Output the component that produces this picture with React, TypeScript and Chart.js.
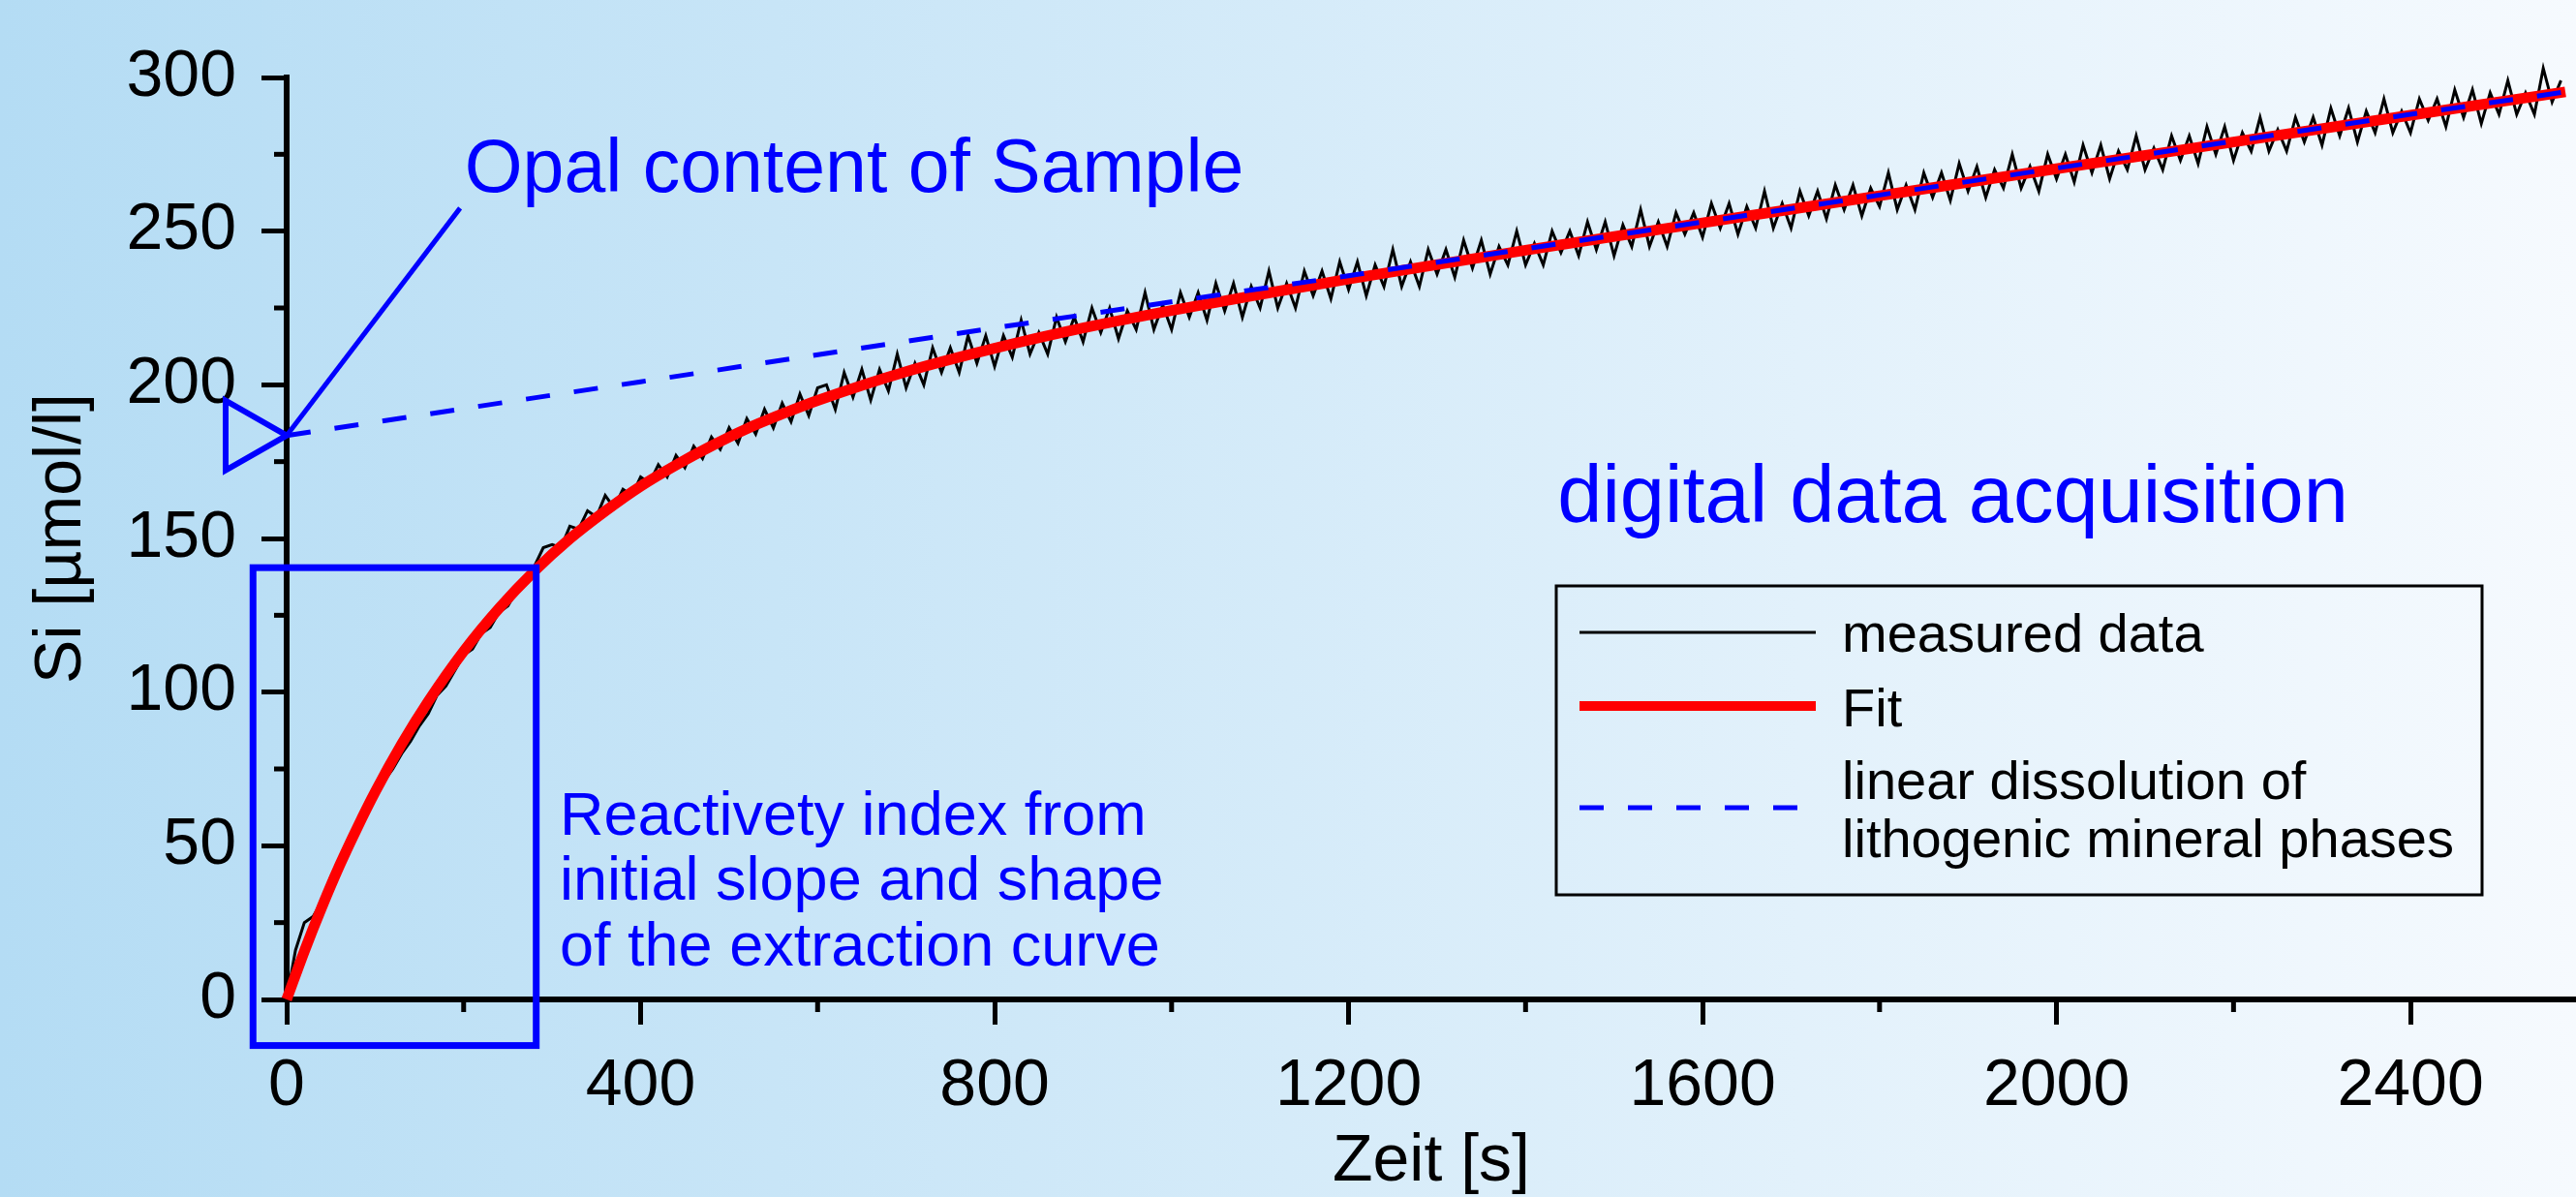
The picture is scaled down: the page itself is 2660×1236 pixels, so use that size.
import React, { useEffect, useRef } from "react";
import { Chart, registerables } from "chart.js";

Chart.register(...registerables);

const FONT = "'Liberation Sans', Arial, Helvetica, sans-serif";
const BLUE = "#0000FF";
const RED = "#FF0000";
const BLACK = "#000000";

// ---- axes ----
const xMin = 0;
const xMax = 2587;
const xTickStep = 400;
const xMinorTicks = [200, 600, 1000, 1400, 1800, 2200];
const yMin = 0;
const yMax = 300;
const yTickStep = 50;
const yMinorTicks = [25, 75, 125, 175, 225, 275];

// ---- measured data (Si, µmol/l), sampled every 10 s from t = 0 ----
const measuredStart = 0;
const measuredStep = 10;
const measuredValues = [
  0, 16, 25, 27, 32, 40, 44, 49, 55, 60,
  66, 71, 75, 80, 84, 89, 93, 99, 102, 107,
  112, 114, 119, 121, 126, 128, 133, 135, 141, 147,
  148, 147, 154, 153, 159, 157, 164, 160, 166, 164,
  170, 168, 174, 170, 177, 173, 180, 176, 183, 179,
  186, 181, 189, 184, 192, 186, 194, 188, 197, 190,
  199, 200, 192, 204, 196, 205, 195, 205, 198, 210,
  199, 207, 200, 212, 204, 212, 204, 216, 207, 216,
  206, 216, 209, 221, 210, 217, 210, 222, 214, 222,
  214, 225, 217, 225, 215, 224, 218, 230, 218, 226,
  218, 230, 222, 230, 221, 233, 224, 233, 222, 232,
  225, 237, 225, 233, 225, 237, 229, 237, 228, 240,
  231, 240, 229, 239, 232, 244, 232, 240, 232, 244,
  236, 244, 235, 247, 238, 247, 236, 245, 239, 250,
  239, 246, 239, 250, 243, 250, 242, 253, 244, 253,
  242, 252, 245, 257, 245, 253, 245, 256, 249, 256,
  248, 259, 251, 259, 249, 258, 251, 263, 251, 259,
  251, 263, 255, 263, 254, 265, 257, 265, 255, 264,
  258, 269, 257, 265, 257, 269, 261, 269, 260, 272,
  263, 271, 261, 270, 264, 275, 264, 271, 263, 275,
  267, 275, 266, 278, 269, 278, 267, 276, 270, 281,
  270, 277, 270, 281, 273, 281, 272, 284, 275, 284,
  273, 282, 276, 287, 276, 283, 276, 287, 279, 287,
  278, 290, 281, 290, 279, 289, 282, 293, 282, 289,
  282, 293, 286, 293, 284, 296, 287, 296, 285, 295,
  288, 299, 288, 295, 288, 303, 292, 299,
];

// ---- fit curve ----
const fitTimes = [0, 20, 40, 60, 80, 100, 130, 160, 200, 240, 280, 320, 360, 400, 440, 480, 520, 560, 600, 700, 800, 900, 1000, 1100, 1200, 1400, 1600, 1800, 2000, 2200, 2400, 2575];
const fitValues = [0, 15.7, 30.2, 43.7, 56.0, 67.5, 83.1, 97.0, 113.3, 127.3, 139.4, 149.9, 158.9, 167.0, 173.9, 180.1, 185.7, 190.5, 194.9, 204.3, 211.9, 218.5, 224.2, 229.4, 234.4, 243.8, 252.7, 261.5, 270.3, 279.0, 287.7, 295.3];

// ---- linear dissolution of lithogenic mineral phases ----
const linearTimes = [0, 400, 800, 1200, 1600, 2000, 2400, 2575];
const linearValues = [183.5, 201.0, 218.5, 235.5, 253.0, 270.5, 288.0, 295.3];

// ---- annotations (data units) ----
const opalContent = 183.5;
const opalLeaderEnd = { x: 196, y: 257.5 };
const opalLabel = "Opal content of Sample";
const opalLabelAt = { x: 201, y: 262.8 };
const reactivityBox = { x0: -38, x1: 282, y0: -15, y1: 140.5 };
const reactivityLines = ["Reactivety index from", "initial slope and shape", "of the extraction curve"];
const reactivityAt = { x: 308.6, y: [53.6, 32.5, 11.0] };
const acquisitionLabel = "digital data acquisition";
const acquisitionAt = { x: 1436, y: 155.4 };

const legendLabels = [["measured data"], ["Fit"], ["linear dissolution of", "lithogenic mineral phases"]];

const decorPlugin = {
  id: "decor",
  beforeDraw(chart: any) {
    const { ctx, width, height } = chart;
    const g = ctx.createLinearGradient(0, 0, width, 0);
    g.addColorStop(0, "#B4DCF4");
    g.addColorStop(1, "#F6FAFE");
    ctx.save();
    ctx.fillStyle = g;
    ctx.fillRect(0, 0, width, height);
    ctx.restore();
  },
  afterDraw(chart: any) {
    const { ctx } = chart;
    const xs = chart.scales.x;
    const ys = chart.scales.y;
    const px = (v: number) => xs.getPixelForValue(v);
    const py = (v: number) => ys.getPixelForValue(v);
    const area = chart.chartArea;
    ctx.save();

    // minor ticks
    ctx.strokeStyle = BLACK;
    ctx.lineWidth = 5;
    ctx.lineCap = "butt";
    xMinorTicks.forEach((v) => {
      const x = px(v);
      ctx.beginPath();
      ctx.moveTo(x, area.bottom);
      ctx.lineTo(x, area.bottom + 13);
      ctx.stroke();
    });
    yMinorTicks.forEach((v) => {
      const y = py(v);
      ctx.beginPath();
      ctx.moveTo(area.left, y);
      ctx.lineTo(area.left - 13, y);
      ctx.stroke();
    });

    // reactivity box
    ctx.strokeStyle = BLUE;
    ctx.lineWidth = 7;
    ctx.lineJoin = "miter";
    const bx0 = px(reactivityBox.x0);
    const bx1 = px(reactivityBox.x1);
    const by0 = py(reactivityBox.y0);
    const by1 = py(reactivityBox.y1);
    ctx.strokeRect(bx0, by1, bx1 - bx0, by0 - by1);

    // triangle marker at opal content
    const tipX = px(0);
    const tipY = py(opalContent);
    ctx.lineWidth = 6;
    ctx.beginPath();
    ctx.moveTo(tipX, tipY);
    ctx.lineTo(tipX - 63, tipY - 36);
    ctx.lineTo(tipX - 63, tipY + 36);
    ctx.closePath();
    ctx.stroke();

    // leader line
    ctx.lineWidth = 5;
    ctx.beginPath();
    ctx.moveTo(tipX, tipY);
    ctx.lineTo(px(opalLeaderEnd.x), py(opalLeaderEnd.y));
    ctx.stroke();

    // texts
    ctx.fillStyle = BLUE;
    ctx.textAlign = "left";
    ctx.textBaseline = "alphabetic";
    ctx.font = `77px ${FONT}`;
    ctx.fillText(opalLabel, px(opalLabelAt.x), py(opalLabelAt.y));
    ctx.font = `83px ${FONT}`;
    ctx.fillText(acquisitionLabel, px(acquisitionAt.x), py(acquisitionAt.y));
    ctx.font = `63px ${FONT}`;
    reactivityLines.forEach((t, i) => ctx.fillText(t, px(reactivityAt.x), py(reactivityAt.y[i])));

    // legend
    const L = { left: 1607, top: 605, right: 2563, bottom: 924 };
    ctx.strokeStyle = BLACK;
    ctx.lineWidth = 3;
    ctx.strokeRect(L.left, L.top, L.right - L.left, L.bottom - L.top);
    const sampleX0 = 1631;
    const sampleX1 = 1875;
    const sampleY = [653, 729, 834];
    const textBaselines = [[673], [750], [825, 885]];
    const dsOrder = [0, 1, 2];
    dsOrder.forEach((di, i) => {
      const ds = chart.data.datasets[di];
      ctx.save();
      ctx.strokeStyle = ds.borderColor;
      ctx.lineWidth = di === 0 ? 3 : di === 1 ? 10 : 5;
      ctx.setLineDash(ds.borderDash || []);
      ctx.beginPath();
      ctx.moveTo(sampleX0, sampleY[i]);
      ctx.lineTo(di === 2 ? 1864 : sampleX1, sampleY[i]);
      ctx.stroke();
      ctx.restore();
      ctx.fillStyle = BLACK;
      ctx.font = `56px ${FONT}`;
      legendLabels[i].forEach((t, j) => ctx.fillText(t, 1902, textBaselines[i][j]));
    });

    ctx.restore();
  },
};

export default function App() {
  const ref = useRef<HTMLCanvasElement>(null);
  useEffect(() => {
    document.body.style.margin = "0";
    document.documentElement.style.overflow = "hidden";
    const measured = measuredValues.map((y, i) => ({ x: measuredStart + i * measuredStep, y }));
    const fit = fitTimes.map((x, i) => ({ x, y: fitValues[i] }));
    const linear = linearTimes.map((x, i) => ({ x, y: linearValues[i] }));
    const tickFont = { family: FONT, size: 68 };
    const plain = (v: any) => String(v);
    const chart = new Chart(ref.current as HTMLCanvasElement, {
      type: "line",
      data: {
        datasets: [
          { label: "measured data", data: measured, borderColor: BLACK, borderWidth: 3, pointRadius: 0, tension: 0, clip: false, order: 3 } as any,
          { label: "Fit", data: fit, borderColor: RED, borderWidth: 11, pointRadius: 0, cubicInterpolationMode: "monotone", clip: false, order: 2 } as any,
          { label: "linear dissolution of lithogenic mineral phases", data: linear, borderColor: BLUE, borderWidth: 5, borderDash: [25, 25], pointRadius: 0, tension: 0, clip: false, order: 1 } as any,
        ],
      },
      options: {
        responsive: false,
        animation: false,
        devicePixelRatio: 1,
        layout: { padding: { top: 80, left: 0, right: 0, bottom: 0 } },
        plugins: { legend: { display: false }, tooltip: { enabled: false } },
        scales: {
          x: {
            type: "linear",
            min: xMin,
            max: xMax,
            afterFit(s: any) { s.height = 204; },
            ticks: { stepSize: xTickStep, includeBounds: false, color: BLACK, font: tickFont, padding: 23, maxRotation: 0, autoSkip: false, callback: plain },
            grid: { drawOnChartArea: false, drawTicks: true, tickLength: 26, tickWidth: 5, tickColor: BLACK },
            border: { display: true, color: BLACK, width: 6 },
            title: { display: true, text: "Zeit [s]", color: BLACK, font: { family: FONT, size: 68, lineHeight: 1 }, padding: { top: 0, bottom: 2 } },
          },
          y: {
            type: "linear",
            min: yMin,
            max: yMax,
            afterFit(s: any) { s.width = 296; },
            ticks: { stepSize: yTickStep, color: BLACK, font: tickFont, padding: 26, callback: plain },
            grid: { drawOnChartArea: false, drawTicks: true, tickLength: 26, tickWidth: 5, tickColor: BLACK },
            border: { display: true, color: BLACK, width: 6 },
            title: { display: true, text: "Si [µmol/l]", color: BLACK, font: { family: FONT, size: 68 }, padding: { top: 23, bottom: 0 } },
          },
        },
      } as any,
      plugins: [decorPlugin],
    });
    return () => chart.destroy();
  }, []);
  return (
    <div style={{ width: 2660, height: 1236 }}>
      <canvas ref={ref} width={2660} height={1236} style={{ display: "block", width: 2660, height: 1236 }} />
    </div>
  );
}
